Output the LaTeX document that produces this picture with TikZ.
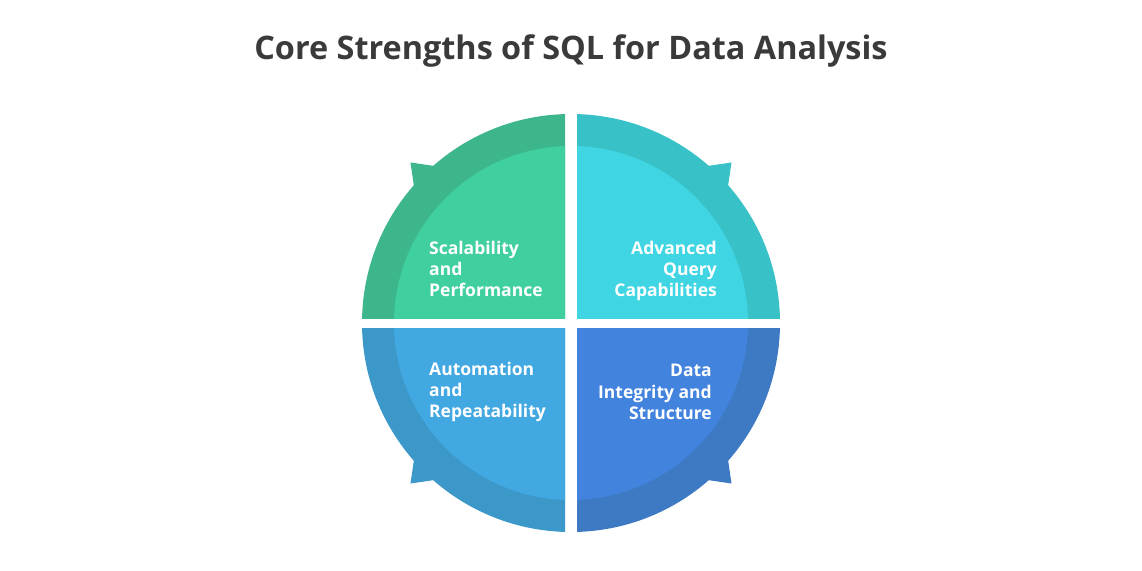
\documentclass[tikz,border=0pt]{standalone}
\usepackage{fontspec}
\setmainfont{Open Sans}
\usepackage{xcolor}
\definecolor{grn_ring}{HTML}{3CB68A}
\definecolor{grn_in}{HTML}{40D0A0}
\definecolor{cyn_ring}{HTML}{38C2C7}
\definecolor{cyn_in}{HTML}{40D5E3}
\definecolor{sky_ring}{HTML}{3C98C8}
\definecolor{sky_in}{HTML}{42A8E2}
\definecolor{blu_ring}{HTML}{3D7AC3}
\definecolor{blu_in}{HTML}{4283DE}
\definecolor{title_grey}{HTML}{3A3A3A}
\usepackage{tikz}
\usetikzlibrary{positioning}
\tikzstyle{quad_left} = [align=left, anchor=west, text=white, inner sep=0pt, font=\fontsize{17.5}{21.4}\selectfont\bfseries]
\tikzstyle{quad_right} = [align=right, anchor=east, text=white, inner sep=0pt, font=\fontsize{17.5}{21.4}\selectfont\bfseries]
\tikzstyle{head} = [text=title_grey, inner sep=0pt, font=\fontsize{32.4}{38}\selectfont\bfseries]

\begin{document}
\begin{tikzpicture}[x=1pt,y=1pt]
        \useasboundingbox (-571,-247) rectangle (571,323);
        \node (title)[head] at (0,272){Core Strengths of SQL for Data Analysis};
        % top left
        \begin{scope}
            \clip (-250,5) rectangle (-6,250);
            \fill [grn_ring] (0,0) circle (209pt);
            \fill [grn_ring] (131:208) -- (135:227) -- (139:208) -- cycle;
            \fill [grn_in] (0,0) circle (177pt);
        \end{scope}
        % top right
        \begin{scope}
            \clip (6,5) rectangle (250,250);
            \fill [cyn_ring] (0,0) circle (209pt);
            \fill [cyn_ring] (41:208) -- (45:227) -- (49:208) -- cycle;
            \fill [cyn_in] (0,0) circle (177pt);
        \end{scope}
        % bottom left
        \begin{scope}
            \clip (-250,-5) rectangle (-6,-250);
            \fill [sky_ring] (0,0) circle (209pt);
            \fill [sky_ring] (221:208) -- (225:227) -- (229:208) -- cycle;
            \fill [sky_in] (0,0) circle (177pt);
        \end{scope}
        % bottom right
        \begin{scope}
            \clip (6,-5) rectangle (250,-250);
            \fill [blu_ring] (0,0) circle (209pt);
            \fill [blu_ring] (311:208) -- (315:227) -- (319:208) -- cycle;
            \fill [blu_in] (0,0) circle (177pt);
        \end{scope}
        \node (scal)[quad_left] at (-142,54){Scalability\\and\\Performance};
        \node (query)[quad_right] at (146,52){Advanced\\Query\\Capabilities};
        \node (auto)[quad_left] at (-142,-69){Automation\\and\\Repeatability};
        \node (integ)[quad_right] at (141,-69){Data\\Integrity and\\Structure};
    \end{tikzpicture}
\end{document}
